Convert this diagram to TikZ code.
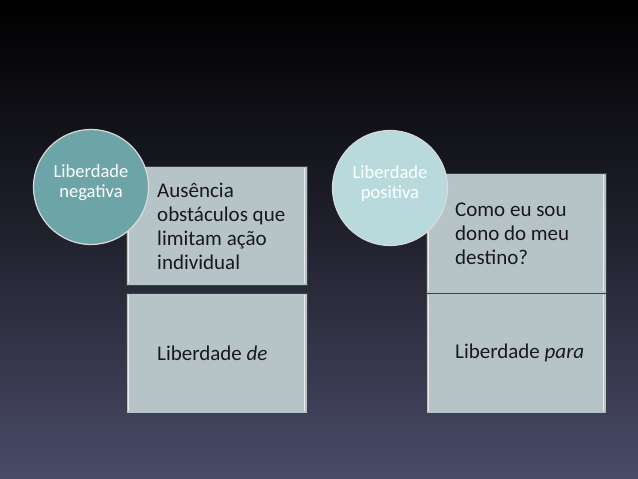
\documentclass[tikz,border=0pt]{standalone}
\usepackage{fontspec}
\setmainfont{Carlito}
\begin{document}
\begin{tikzpicture}[x=1pt,y=-1pt,
  boxstyle/.style={draw=black!75,line width=0.8pt,fill=boxfill,inner sep=0pt},
  circstyle/.style={circle,draw=white!85!black,line width=1.2pt,minimum size=115pt,inner sep=0pt},
  circtext/.style={text=white,align=center,inner sep=0pt,font=\fontsize{18.5}{20}\selectfont},
  boxtext/.style={anchor=west,align=left,text=black!90,font=\fontsize{21}{24}\selectfont,inner sep=0pt}]
\definecolor{boxfill}{HTML}{B7C4C7}
\definecolor{tealdark}{HTML}{6DA4A8}
\definecolor{teallight}{HTML}{B8DADD}
\definecolor{bgtop}{HTML}{000000}
\definecolor{bgbot}{HTML}{4A4B68}
\useasboundingbox (0,0) rectangle (638,479);
\shade[top color=bgtop,bottom color=bgbot,middle color=bgtop!55!bgbot] (0,0) rectangle (638,479);
% left column
\draw[boxstyle] (126,166) rectangle (307,285);
\draw[boxstyle] (126,293) rectangle (307,413);
\draw[white!70!boxfill,line width=1.2pt] (128.5,168) -- (128.5,283) (304.5,168) -- (304.5,283);
\draw[white!70!boxfill,line width=1.2pt] (128.5,295) -- (128.5,411) (304.5,295) -- (304.5,411);
\node[circstyle,fill=tealdark] (ln) at (91,187) {};
\node[circtext] (lnt) at (91,183) {Liberdade\\negativa};
\node[boxtext] (lt) at (157,226) {Ausência\\obstáculos que\\limitam ação\\individual};
\node[boxtext] (lb) at (157,353) {Liberdade \textit{de}};
% right column
\draw[boxstyle] (426,173) rectangle (606,293);
\draw[boxstyle] (426,293) rectangle (606,413);
\draw[white!70!boxfill,line width=1.2pt] (428.5,175) -- (428.5,291) (603.5,175) -- (603.5,291);
\draw[white!70!boxfill,line width=1.2pt] (428.5,295) -- (428.5,411) (603.5,295) -- (603.5,411);
\node[circstyle,fill=teallight] (rn) at (390,188) {};
\node[circtext] (rnt) at (390,184) {Liberdade\\positiva};
\node[boxtext] (rt) at (455,234) {Como eu sou\\dono do meu\\destino?};
\node[boxtext] (rb) at (455,353) {Liberdade \textit{para}};
\end{tikzpicture}
\end{document}
